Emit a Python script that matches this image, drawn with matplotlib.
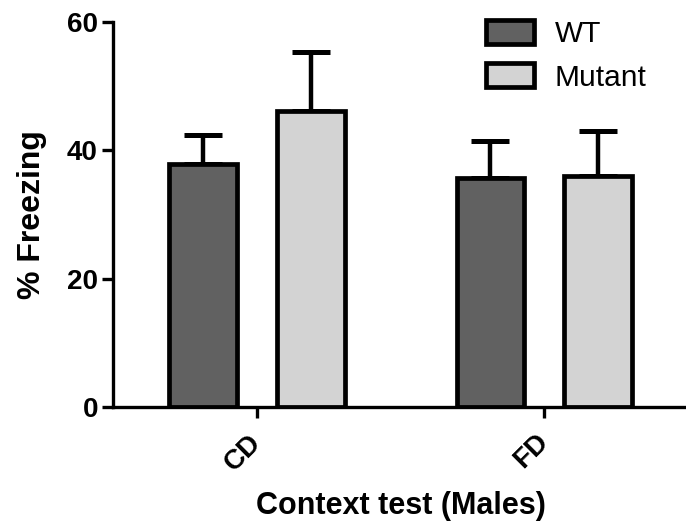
import numpy as np
import matplotlib
matplotlib.use('Agg')
import matplotlib.pyplot as plt
from matplotlib.transforms import ScaledTranslation

plt.rcParams['font.family'] = ['Liberation Sans', 'DejaVu Sans']

# freezing in the context test, males
tests = ['CD', 'FD']
groups = ['WT', 'Mutant']
wt_mean = [37.9, 35.7]
wt_sem = [4.5, 5.8]
mut_mean = [46.1, 36.0]
mut_sem = [9.2, 7.0]

col = ['#616161', '#d3d3d3']

fig = plt.figure(figsize=(6.86, 5.25), dpi=100)
ax = fig.add_axes([0.165, 0.225, 0.838, 0.733])

x = np.arange(len(tests))
w = 0.236
off = 0.1875

for i, (m, s) in enumerate([(wt_mean, wt_sem), (mut_mean, mut_sem)]):
    pos = x - off if i == 0 else x + off
    ax.errorbar(pos, m, yerr=[np.zeros(len(s)), s], fmt='none', ecolor='black',
                elinewidth=3.2, capsize=13.5, capthick=3.6, zorder=1)
    ax.bar(pos, m, width=w, color=col[i], edgecolor='black', linewidth=3.4,
           label=groups[i], zorder=2)

ax.set_xlim(-0.5, 1.5)
ax.set_ylim(0, 60)
ax.set_yticks([0, 20, 40, 60])
ax.set_xticks(x)
ax.set_xticklabels(tests, rotation=45, ha='right', rotation_mode='anchor',
                   fontsize=20, fontweight='bold')
for lab in ax.get_yticklabels():
    lab.set_fontsize(20)
    lab.set_fontweight('bold')

ax.spines['top'].set_visible(False)
ax.spines['right'].set_visible(False)
ax.spines['left'].set_linewidth(2.4)
ax.spines['bottom'].set_linewidth(2.4)
ax.tick_params(axis='both', length=8, width=2.4, pad=3)

# nudge the slanted labels down and left (after tick_params, which resets them)
shift = ScaledTranslation(-9 / 100, -7 / 100, fig.dpi_scale_trans)
for lab in ax.get_xticklabels():
    lab.set_transform(lab.get_transform() + shift)

ax.set_ylabel('% Freezing', fontsize=23, fontweight='bold', labelpad=14)
ax.set_xlabel('Context test (Males)', fontsize=22, fontweight='bold', labelpad=11)

leg = ax.legend(loc='upper left', bbox_to_anchor=(0.628, 1.036), frameon=False,
                fontsize=21.5, handlelength=1.6, handleheight=0.85,
                handletextpad=0.7, labelspacing=0.5, borderaxespad=0)
for h in leg.legend_handles:
    h.set_linewidth(3.4)

plt.savefig('out.png', dpi=100)
